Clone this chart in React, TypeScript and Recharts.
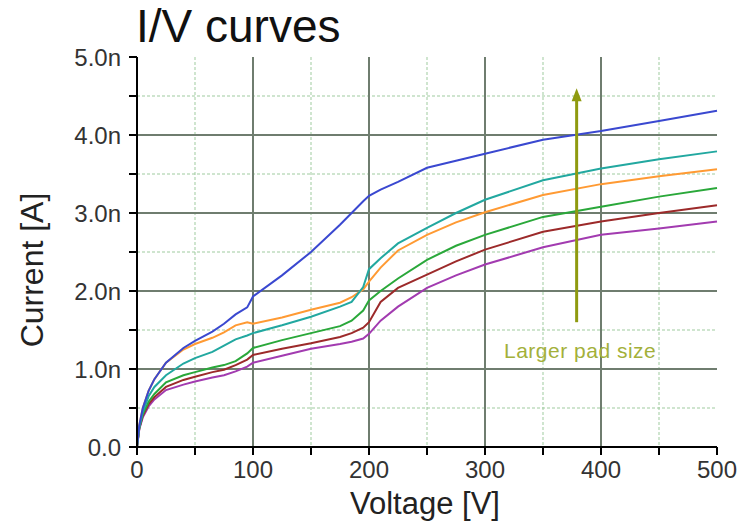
import React from "react"
import {
  LineChart,
  Line,
  XAxis,
  YAxis,
  CartesianGrid,
  ReferenceLine,
  ReferenceDot,
} from "recharts"

// Voltage sample points [V]
const voltages = [0, 2, 5, 10, 15, 25, 40, 50, 65, 75, 85, 95, 100, 125, 150, 175, 185, 195, 200, 210, 225, 250, 275, 300, 350, 400, 450, 500]

// Currents [nA], one array per pad size (largest first)
const padBlue = [0, 0.28, 0.5, 0.72, 0.87, 1.08, 1.27, 1.36, 1.48, 1.58, 1.7, 1.79, 1.93, 2.2, 2.5, 2.85, 3.0, 3.15, 3.22, 3.3, 3.4, 3.58, 3.67, 3.76, 3.94, 4.05, 4.18, 4.31]
const padOrange = [0, 0.28, 0.5, 0.72, 0.87, 1.08, 1.25, 1.32, 1.4, 1.47, 1.56, 1.6, 1.58, 1.66, 1.76, 1.85, 1.92, 2.02, 2.12, 2.3, 2.52, 2.72, 2.88, 3.01, 3.23, 3.37, 3.47, 3.56]
const padTeal = [0, 0.25, 0.45, 0.65, 0.77, 0.92, 1.07, 1.14, 1.22, 1.3, 1.38, 1.43, 1.46, 1.56, 1.67, 1.8, 1.86, 2.05, 2.28, 2.42, 2.61, 2.81, 3.0, 3.17, 3.42, 3.57, 3.69, 3.79]
const padGreen = [0, 0.25, 0.42, 0.58, 0.68, 0.83, 0.92, 0.96, 1.02, 1.05, 1.1, 1.2, 1.27, 1.37, 1.46, 1.55, 1.62, 1.75, 1.88, 2.0, 2.16, 2.4, 2.58, 2.72, 2.95, 3.08, 3.21, 3.32]
const padBrown = [0, 0.24, 0.4, 0.55, 0.64, 0.77, 0.86, 0.9, 0.96, 0.99, 1.05, 1.12, 1.18, 1.26, 1.33, 1.41, 1.46, 1.53, 1.6, 1.86, 2.04, 2.21, 2.38, 2.53, 2.76, 2.89, 3.0, 3.1]
const padPurple = [0, 0.23, 0.38, 0.52, 0.61, 0.73, 0.8, 0.84, 0.89, 0.92, 0.97, 1.03, 1.08, 1.17, 1.26, 1.32, 1.35, 1.39, 1.45, 1.62, 1.8, 2.04, 2.2, 2.34, 2.56, 2.72, 2.8, 2.89]

const xTicks = [0, 50, 100, 150, 200, 250, 300, 350, 400, 450, 500]
const yTicks = [0, 0.5, 1, 1.5, 2, 2.5, 3, 3.5, 4, 4.5, 5]
const xMajor = [100, 200, 300, 400]
const xMinor = [50, 150, 250, 350, 450]
const yMajor = [1, 2, 3, 4]
const yMinor = [0.5, 1.5, 2.5, 3.5, 4.5]

// annotation arrow (voltage, current range) and its caption
const arrowV = 379
const arrowFrom = 1.6
const arrowTo = 4.6
const captionV = 382
const captionI = 1.14
const caption = "Larger pad size"

const FONT = "'Liberation Sans', Arial, sans-serif"
const OLIVE = "#8f9a10"

const data = voltages.map((v, i) => ({
  v,
  blue: padBlue[i],
  teal: padTeal[i],
  orange: padOrange[i],
  green: padGreen[i],
  brown: padBrown[i],
  purple: padPurple[i],
}))

const series = [
  { key: "purple", color: "#a23bb0" },
  { key: "brown", color: "#9c2a2a" },
  { key: "green", color: "#2aa83a" },
  { key: "orange", color: "#ff9a33" },
  { key: "teal", color: "#22a8a0" },
  { key: "blue", color: "#3a48d0" },
]

const fmtY = (v: number) => (v === 0 ? "0.0" : Number.isInteger(v) ? v.toFixed(1) + "n" : "")
const fmtX = (v: number) => (v % 100 === 0 ? String(v) : "")

export default function App() {
  return (
    <div style={{ position: "absolute", left: 0, top: 0, width: 737, height: 523, background: "#fff", overflow: "hidden", fontFamily: FONT }}>
      <div style={{ position: "absolute", left: 136, top: 3, fontSize: 46, lineHeight: "46px", color: "#111", whiteSpace: "nowrap" }}>
        I/V curves
      </div>
      <LineChart width={737} height={523} data={data} margin={{ top: 57, right: 20, bottom: 0, left: 0 }}>
        <CartesianGrid verticalValues={xMinor} horizontalValues={yMinor} stroke="#9fcb9f" strokeDasharray="3 2" strokeWidth={1} />
        <CartesianGrid verticalValues={xMajor} horizontalValues={yMajor} stroke="#6f7d6f" strokeWidth={2} />
        <XAxis
          dataKey="v"
          type="number"
          domain={[0, 500]}
          ticks={xTicks}
          tickFormatter={fmtX}
          height={76}
          axisLine={{ stroke: "#000", strokeWidth: 2 }}
          tickLine={{ stroke: "#000", strokeWidth: 2 }}
          tickSize={8}
          tickMargin={6}
          tick={{ fill: "#333", fontSize: 24, fontFamily: FONT }}
          label={{
            content: () => (
              <text x={425} y={514} textAnchor="middle" fontSize={31} fontFamily={FONT} fill="#222">
                Voltage [V]
              </text>
            ),
          }}
        />
        <YAxis
          type="number"
          domain={[0, 5]}
          ticks={yTicks}
          tickFormatter={fmtY}
          width={137}
          axisLine={{ stroke: "#000", strokeWidth: 2 }}
          tickLine={{ stroke: "#000", strokeWidth: 2 }}
          tickSize={8}
          tickMargin={8}
          tick={{ fill: "#333", fontSize: 24, fontFamily: FONT }}
          label={{
            content: () => (
              <text transform="translate(43,270) rotate(-90)" textAnchor="middle" fontSize={32} fontFamily={FONT} fill="#222">
                Current [A]
              </text>
            ),
          }}
        />
        {series.map((s) => (
          <Line
            key={s.key}
            dataKey={s.key}
            type="linear"
            stroke={s.color}
            strokeWidth={2}
            dot={false}
            isAnimationActive={false}
          />
        ))}
        <ReferenceLine
          segment={[{ x: arrowV, y: arrowFrom }, { x: arrowV, y: arrowTo - 0.12 }]}
          stroke={OLIVE}
          strokeWidth={3}
        />
        <ReferenceDot
          x={arrowV}
          y={arrowTo}
          r={0}
          shape={(p: any) => (
            <polygon points={`${p.cx},${p.cy} ${p.cx - 5},${p.cy + 13} ${p.cx + 5},${p.cy + 13}`} fill={OLIVE} />
          )}
        />
        <ReferenceDot
          x={captionV}
          y={captionI}
          r={0}
          shape={(p: any) => (
            <text x={p.cx} y={p.cy} textAnchor="middle" fontSize={21} fontFamily={FONT} fill="#a3b03a" letterSpacing={0.5}>
              {caption}
            </text>
          )}
        />
      </LineChart>
    </div>
  )
}
